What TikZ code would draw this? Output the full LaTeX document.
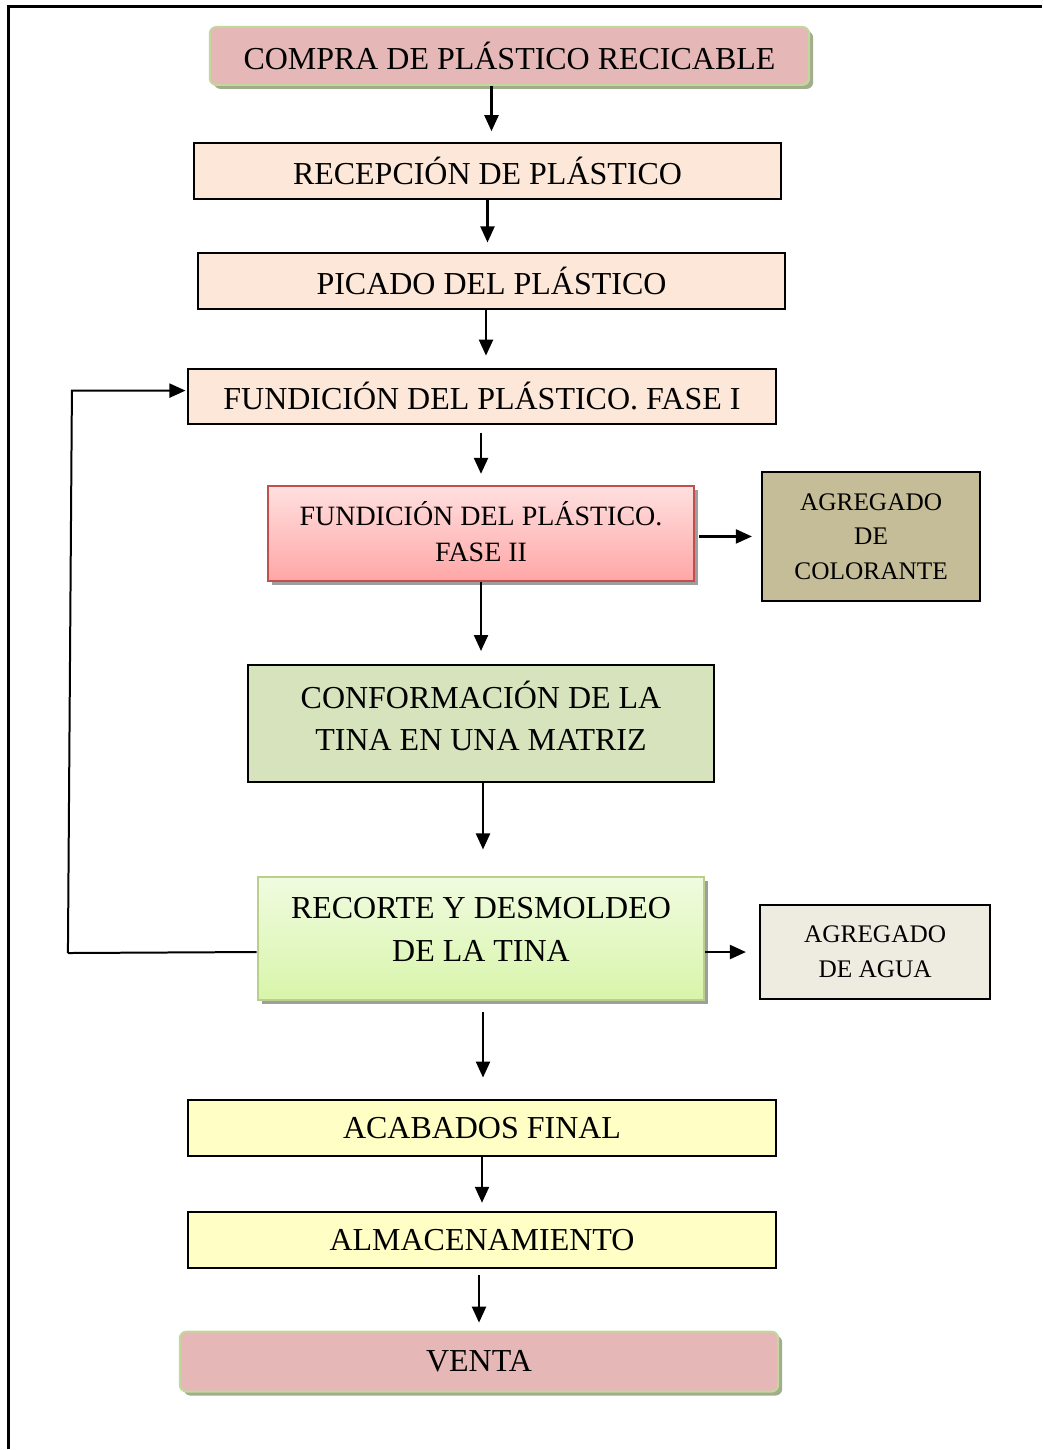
\documentclass[tikz,border=0pt]{standalone}
\usepackage{fontspec}
\setmainfont{Liberation Serif}
\usetikzlibrary{arrows.meta,shadows,calc}

\definecolor{rosa}{RGB}{229,184,183}
\definecolor{verdeborde}{RGB}{195,214,155}
\definecolor{verdeoscuro}{RGB}{155,187,89}
\definecolor{sombraverde}{RGB}{160,174,140}
\definecolor{durazno}{RGB}{252,231,216}
\definecolor{rojoborde}{RGB}{192,80,77}
\definecolor{rojoclaro}{RGB}{255,224,224}
\definecolor{rojomedio}{RGB}{255,166,166}
\definecolor{limaclaro}{RGB}{240,251,224}
\definecolor{limamedio}{RGB}{216,245,170}
\definecolor{caqui}{RGB}{196,189,151}
\definecolor{verdeoliva}{RGB}{215,227,188}
\definecolor{crema}{RGB}{238,236,225}
\definecolor{amarillo}{RGB}{255,255,197}

\begin{document}
\begin{tikzpicture}[x=0.75pt,y=0.75pt,yscale=-1,xscale=1,
  caja/.style={draw=black, line width=1.5pt, inner sep=0pt, align=center, font=\fontsize{24}{31}\selectfont},
  extremo/.style={draw=verdeborde, line width=1.5pt, fill=rosa, rounded corners=5pt, inner sep=0pt, align=center, font=\fontsize{24}{31}\selectfont, drop shadow={shadow xshift=3pt, shadow yshift=-3pt, fill=sombraverde, opacity=1}},
  sombra/.style={drop shadow={shadow xshift=3pt, shadow yshift=-3pt, fill=black!38, opacity=1}},
  texto/.style={inner sep=0pt, align=center, font=\fontsize{24}{32}\selectfont},
  flecha/.style={line width=1.7pt, -{Triangle[length=12pt,width=10.5pt]}}]
\path (0,0) rectangle (1043,1450); %set diagram size

%Frame
\draw [line width=2.25pt] (9,1450) -- (9,7) -- (1043,7) ;

%Process boxes
\node [extremo, minimum width=450pt, minimum height=43.5pt] (compra) at (510,56) {COMPRA DE PLÁSTICO RECICABLE};
\node [caja, fill=durazno, minimum width=441pt, minimum height=42pt] (recep) at (488,171) {RECEPCIÓN DE PLÁSTICO};
\node [caja, fill=durazno, minimum width=441pt, minimum height=42pt] (picado) at (492,281) {PICADO DEL PLÁSTICO};
\node [caja, fill=durazno, minimum width=441.75pt, minimum height=41.25pt] (fund1) at (482.5,396.5) {FUNDICIÓN DEL PLÁSTICO. FASE I};
\node [caja, sombra, draw=rojoborde, top color=rojoclaro, bottom color=rojomedio, minimum width=320.25pt, minimum height=72pt] (fund2) at (481.5,534) {};
\node [texto, font=\fontsize{21}{27}\selectfont] (fund2-t) at ($(fund2.center)+(0,-2)$) {FUNDICIÓN DEL PLÁSTICO.\\FASE II};
\node [caja, fill=caqui, minimum width=163.5pt, minimum height=97.5pt, font=\fontsize{19}{26}\selectfont] (color) at (872,537) {AGREGADO\\DE\\COLORANTE};
\node [caja, fill=verdeoliva, minimum width=350.25pt, minimum height=87.75pt] (conf) at (481.5,724.5) {};
\node [texto] (conf-t) at ($(conf.center)+(0,-8)$) {CONFORMACIÓN DE LA\\TINA EN UNA MATRIZ};
\node [caja, sombra, draw=verdeoscuro!70!white, top color=limaclaro, bottom color=limamedio, minimum width=335.25pt, minimum height=92.25pt] (recorte) at (481.5,939.5) {};
\node [texto] (recorte-t) at ($(recorte.center)+(0,-9)$) {RECORTE Y DESMOLDEO\\DE LA TINA};
\node [caja, fill=crema, minimum width=172.5pt, minimum height=70.5pt, font=\fontsize{19}{26}\selectfont] (agua) at (876,953) {AGREGADO\\DE AGUA};
\node [caja, fill=amarillo, minimum width=441.75pt, minimum height=42pt] (acab) at (482.5,1129) {ACABADOS FINAL};
\node [caja, fill=amarillo, minimum width=441.75pt, minimum height=42pt] (almac) at (482.5,1241) {ALMACENAMIENTO};
\node [extremo, minimum width=449.25pt, minimum height=45pt] (venta) at (479.5,1363) {VENTA};

%Connectors
\draw [flecha, shorten >=8pt] ($(compra.south -| recep.north)+(4,0)$) -- ($(recep.north)+(4,0)$) ;
\draw [flecha, shorten >=7pt] (recep.south) -- (recep.south |- picado.north) ;
\draw [flecha, shorten >=9pt] ($(picado.south -| fund1.north)+(4,0)$) -- ($(fund1.north)+(4,0)$) ;
\draw [flecha, shorten <=6pt, shorten >=8pt] (fund1.south -| fund2.north) -- (fund2.north) ;
\draw [flecha, shorten >=10pt] (fund2.south) -- (conf.north) ;
\draw [flecha, shorten <=3pt, shorten >=7pt] (fund2.east |- color.west) -- (color.west) ;
\draw [flecha, shorten >=20pt] ($(conf.south)+(2,0)$) -- ($(recorte.north)+(2,0)$) ;
\draw [flecha, shorten >=10pt] (recorte.east |- agua.west) -- (agua.west) ;
\draw [flecha, shorten <=8pt, shorten >=16pt] ($(recorte.south)+(2,0)$) -- ($(recorte.south |- acab.north)+(2,0)$) ;
\draw [flecha, shorten >=6pt] (acab.south) -- (almac.north) ;
\draw [flecha, shorten <=5pt, shorten >=6pt] (almac.south -| venta.north) -- (venta.north) ;

%Return line
\coordinate (vuelta) at (68,954) ;
\coordinate (arriba) at (72,391) ;
\draw [line width=1.5pt] (recorte.west |- agua.west) -- (vuelta) ;
\draw [flecha, line width=1.5pt, shorten >=1pt] (vuelta) -- (arriba) -- (arriba -| fund1.west) ;

\end{tikzpicture}
\end{document}
